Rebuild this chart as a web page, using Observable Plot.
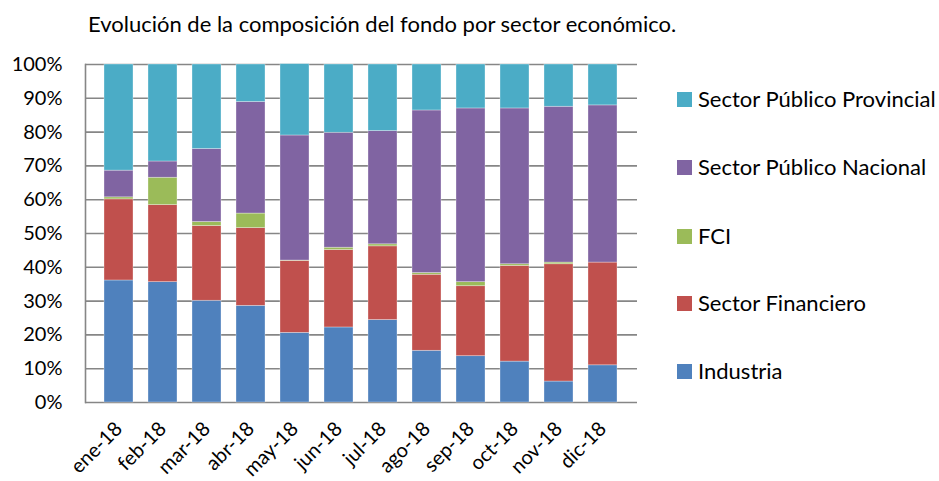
<!DOCTYPE html>
<html>
<head>
<meta charset="utf-8">
<script src="https://cdn.jsdelivr.net/npm/d3@7"></script>
<script src="https://cdn.jsdelivr.net/npm/@observablehq/plot@0.6"></script>
<style>
  html, body { margin: 0; padding: 0; background: #fff; }
  body { width: 939px; height: 481px; position: relative; overflow: hidden; font-family: Lato, "Open Sans", sans-serif; }
  #title { position: absolute; left: 88px; top: 10px; font-size: 22px; line-height: 28px; color: #000; white-space: nowrap; }
  #chart { position: absolute; left: 0; top: 50px; }
  #legend { position: absolute; left: 677px; top: 0; }
  .item { position: absolute; left: 0; white-space: nowrap; font-size: 22px; line-height: 26px; color: #000; display: flex; align-items: center; }
  .sw { width: 15px; height: 15px; margin-right: 6px; display: inline-block; }
</style>
</head>
<body>
<div id="title">Evolución de la composición del fondo por sector económico.</div>
<div id="chart"></div>
<div id="legend"></div>
<script>
const months = ["ene-18","feb-18","mar-18","abr-18","may-18","jun-18","jul-18","ago-18","sep-18","oct-18","nov-18","dic-18"];
const sectors = ["Industria","Sector Financiero","FCI","Sector Público Nacional","Sector Público Provincial"];
const colors = ["#4F81BD","#C0504D","#9BBB59","#8064A2","#4BACC6"];
const industria   = [36.1, 35.6, 30.1, 28.6, 20.6, 22.2, 24.4, 15.3, 13.7, 12.1,  6.2, 11.0];
const financiero  = [24.0, 22.8, 22.1, 23.0, 21.3, 22.9, 21.8, 22.5, 20.7, 28.3, 34.7, 30.4];
const fci         = [ 0.6,  8.1,  1.2,  4.3,  0.1,  0.7,  0.6,  0.5,  1.2,  0.5,  0.5,  0.0];
const nacional    = [ 7.9,  4.8, 21.6, 33.0, 37.0, 34.0, 33.5, 48.1, 51.4, 46.1, 46.1, 46.5];
const provincial  = [31.4, 28.7, 25.0, 11.1, 21.1, 20.2, 19.7, 13.6, 13.0, 13.0, 12.5, 12.1];
const yTicks = [0,10,20,30,40,50,60,70,80,90,100];

const series = [industria, financiero, fci, nacional, provincial];
const data = months.flatMap((m, i) => sectors.map((s, j) => ({month: m, sector: s, value: series[j][i]})));

const plot = Plot.plot({
  width: 939,
  height: 431,
  marginLeft: 85,
  marginRight: 302,
  marginTop: 14,
  marginBottom: 79,
  style: {fontFamily: "Lato, 'Open Sans', sans-serif", fontSize: "20px", color: "#000", background: "transparent"},
  x: {domain: months, padding: 0.34, label: null},
  y: {domain: [0, 100], label: null},
  color: {domain: sectors, range: colors},
  marks: [
    Plot.ruleY(yTicks, {stroke: "#868686", strokeWidth: 1.6}),
    Plot.barY(data, Plot.stackY({x: "month", y: "value", fill: "sector", order: sectors, stroke: "#fff", strokeOpacity: 0.45, strokeWidth: 0.7})),
    Plot.frame({anchor: "left", stroke: "#868686", strokeWidth: 1.6}),
    Plot.axisY(yTicks, {tickFormat: d => d + "%", tickSize: 0, tickPadding: 23, fontSize: 20}),
    Plot.axisX({tickRotate: -45, tickSize: 0, tickPadding: 23, fontSize: 20})
  ]
});
document.getElementById("chart").appendChild(plot);

const legend = document.getElementById("legend");
const legendY = [99, 167, 236, 303, 371];
sectors.slice().reverse().forEach((s, k) => {
  const div = document.createElement("div");
  div.className = "item";
  div.style.top = (legendY[k] - 13) + "px";
  div.innerHTML = `<span class="sw" style="background:${colors[sectors.indexOf(s)]}"></span>${s}`;
  legend.appendChild(div);
});
</script>
</body>
</html>
